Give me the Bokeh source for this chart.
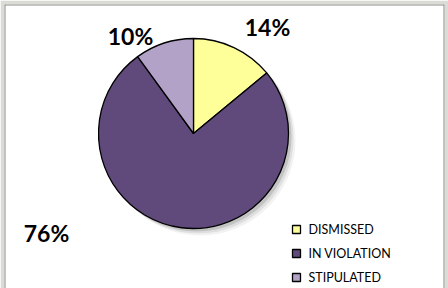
import math
from bokeh.plotting import figure
from bokeh.models import ColumnDataSource, Range1d, Span
from bokeh.core.properties import value
from bokeh.embed import file_html
from bokeh.resources import INLINE

# ---- data ----
categories = ["DISMISSED", "IN VIOLATION", "STIPULATED"]
shares = [14, 76, 10]
colors = ["#FFFF99", "#604A7B", "#B3A2C7"]

# ---- layout (pixel-like data units) ----
W, H = 448, 288
BL, BR, BT, BB = 4, 4, 4, 0
FW, FH = W - BL - BR, H - BT - BB
cx, cy, r = 189, 155, 95
label_pos = [(263, 262), (42, 56), (126, 253)]   # label anchor per slice
legend_x, legend_y0, legend_dy = 292, 59, 24

total = float(sum(shares))
starts, ends = [], []
a = math.pi / 2
for s in shares:
    starts.append(a)
    a -= 2 * math.pi * s / total
    ends.append(a)

src = ColumnDataSource(dict(cat=categories, share=shares, color=colors,
                            start=starts, end=ends,
                            lx=[q[0] for q in label_pos], ly=[q[1] for q in label_pos],
                            lab=[f"{s}%" for s in shares],
                            gx=[legend_x] * len(shares),
                            gy=[legend_y0 - i * legend_dy for i in range(len(shares))]))

p = figure(width=W, height=H, output_backend="svg", toolbar_location=None,
           x_range=Range1d(0, FW), y_range=Range1d(0, FH),
           min_border_left=BL, min_border_right=BR, min_border_top=BT,
           min_border_bottom=BB)
p.axis.visible = False
p.grid.visible = False
p.outline_line_color = None
p.background_fill_color = "white"
p.border_fill_color = "#DCDCD6"

# chart-area border (left, top, right; bottom lies below the window)
for loc, dim in [(0, "height"), (FW, "height"), (FH, "width")]:
    p.add_layout(Span(location=loc, dimension=dim, line_color="#8A8A8A", line_width=2))

# soft shadow
for off, al in [(7, 0.05), (5, 0.08), (3, 0.12)]:
    p.circle(x=cx + off, y=cy - off, radius=r, fill_color="#000000", fill_alpha=al,
             line_color=None)

p.wedge(x=cx, y=cy, radius=r, start_angle="start", end_angle="end",
        direction="clock", fill_color="color", line_color="black", line_width=1.3,
        source=src)

p.text(x="lx", y="ly", text="lab", source=src, text_font=value("Lato"),
       text_font_style="bold", text_font_size="23px", text_color="black",
       text_align="center", text_baseline="middle")

# legend
p.scatter(x="gx", y="gy", marker="square", size=8, fill_color="color",
          line_color="black", line_width=1.3, source=src)
p.text(x="gx", y="gy", text="cat", source=src, x_offset=12, text_font=value("Lato"),
       text_font_size="12.5px", text_color="black", text_align="left",
       text_baseline="middle")

open("out.html", "w").write(file_html(p, INLINE))
